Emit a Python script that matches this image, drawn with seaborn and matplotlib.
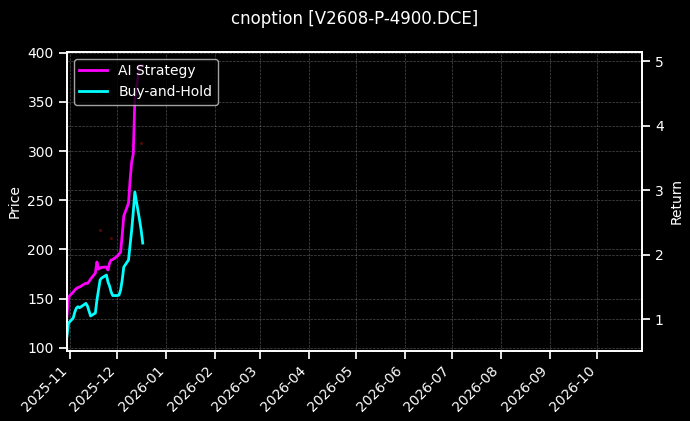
import matplotlib
matplotlib.use("Agg")
import matplotlib.pyplot as plt
import matplotlib.dates as mdates
import pandas as pd
import seaborn as sns

TITLE = "cnoption [V2608-P-4900.DCE]"

# trading days of the backtest
dates = pd.bdate_range("2025-10-30", "2025-12-17")

ai_strategy = [1.036, 1.341, 1.419, 1.450, 1.473, 1.488, 1.496, 1.543, 1.553, 1.553,
               1.581, 1.620, 1.713, 1.884, 1.775, 1.791, 1.802, 1.806, 1.760, 1.868,
               1.915, 1.922, 1.977, 2.008, 2.039, 2.302, 2.597, 2.798, 3.155, 3.434,
               3.558, 4.400, 4.930, 4.930, 4.930]

buy_hold = [0.726, 0.938, 1.016, 1.109, 1.171, 1.191, 1.175, 1.225, 1.243, 1.202,
            1.124, 1.047, 1.093, 1.295, 1.450, 1.605, 1.636, 1.682, 1.574, 1.512,
            1.419, 1.364, 1.364, 1.372, 1.450, 1.605, 1.806, 1.915, 2.147, 2.380,
            2.659, 2.969, 2.535, 2.380, 2.178]

# faint trade markers on the price axis
signal_dates = pd.to_datetime(["2025-11-20", "2025-11-27", "2025-12-10", "2025-12-16"])
signal_prices = [219.7, 211.6, 306.0, 308.0]

plt.style.use("dark_background")
sns.set_context("notebook", rc={"font.size": 10, "axes.labelsize": 10, "axes.titlesize": 12,
                                "xtick.labelsize": 10, "ytick.labelsize": 10,
                                "legend.fontsize": 10, "lines.linewidth": 2})
plt.rcParams["font.family"] = ["DejaVu Sans"]

fig, ax1 = plt.subplots(figsize=(6.9, 4.21), dpi=100)
fig.subplots_adjust(left=0.097, right=0.930, top=0.877, bottom=0.167)

ax1.scatter(signal_dates, signal_prices, s=5, color="#ff2020", alpha=0.3, linewidths=0)
ax1.set_ylim(97, 401)
ax1.set_ylabel("Price")
ax1.grid(True, linestyle="--", linewidth=0.5, alpha=0.3)

ax2 = ax1.twinx()
df = pd.DataFrame({"date": dates, "ai": ai_strategy, "bh": buy_hold})
sns.lineplot(data=df, x="date", y="ai", ax=ax2, color="magenta", linewidth=2, label="AI Strategy")
sns.lineplot(data=df, x="date", y="bh", ax=ax2, color="cyan", linewidth=2, label="Buy-and-Hold")
ax2.set_ylim(0.509, 5.144)
ax2.set_ylabel("Return")
ax2.set_xlabel("")
ax2.grid(True, axis="y", linestyle="--", linewidth=0.5, alpha=0.3)
ax2.legend(loc="upper left", fontsize=10, framealpha=0.8)

ax1.set_xlim(pd.Timestamp("2025-10-30"), pd.Timestamp("2026-10-29"))
ax1.xaxis.set_major_locator(mdates.MonthLocator())
ax1.xaxis.set_major_formatter(mdates.DateFormatter("%Y-%m"))
ax1.set_xlabel("")
plt.setp(ax1.get_xticklabels(), rotation=45, ha="right")

ax1.set_title(TITLE, fontsize=12, pad=20)

fig.savefig("out.png", dpi=100)
